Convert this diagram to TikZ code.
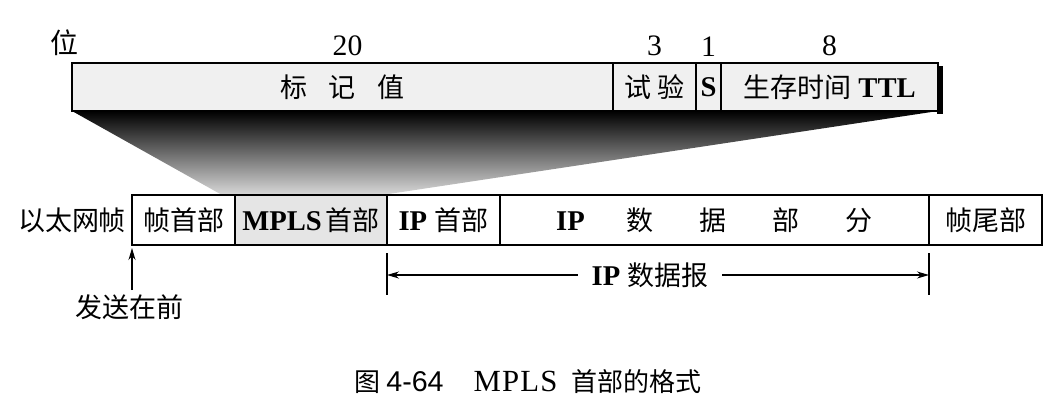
\documentclass[tikz,border=0pt]{standalone}
\usepackage{fontspec}
\setmainfont{Liberation Serif}[Scale=1.06]
\newfontfamily\cjk{Noto Sans CJK SC}
\newfontfamily\capsans{Liberation Sans}[Scale=1.1]
\usetikzlibrary{arrows.meta, positioning}

\begin{document}
\begin{tikzpicture}[x=1pt, y=-1pt,
    every node/.style={font=\fontsize{27}{30}\selectfont, inner sep=0pt, outer sep=0pt},
    labelbox/.style={rectangle, draw, line width=1.3pt, fill=gray!12, minimum height=48pt},
    fieldbox/.style={rectangle, draw, line width=1.3pt, fill=white, minimum height=50pt},
    bitnum/.style={font=\fontsize{28}{30}\selectfont},
    tick/.style={line width=1.1pt},
    arrow/.style={-{Stealth[length=12pt, width=7pt]}, line width=1.2pt}
]
    \useasboundingbox (0,0) rectangle (1058,405);
    \shade[top color=black, bottom color=gray!30] (72,111) -- (938,111) -- (382,195) -- (222,195) -- cycle;
    \fill (937,66) rectangle (943,114);

    \node[labelbox, minimum width=541pt, anchor=north west] (label) at (72,63) {\cjk 标\hspace{22pt}记\hspace{22pt}值};
    \node[labelbox, minimum width=83pt, right=0pt of label] (exp) {\cjk 试\hspace{6pt}验};
    \node[labelbox, minimum width=25pt, right=0pt of exp] (sbit) {\textbf{S}};
    \node[labelbox, minimum width=217pt, right=0pt of sbit] (ttl) {{\cjk 生存时间} \textbf{TTL}};

    \node[bitnum, above=7pt of label.north west, xshift=-8pt] (bitword) {\cjk 位};
    \node[bitnum, above=7pt of label, xshift=5pt] (b20) {20};
    \node[bitnum, above=7pt of exp] (b3) {3};
    \node[bitnum, above=7pt of sbit] (b1) {1};
    \node[bitnum, above=7pt of ttl] (b8) {8};

    \node[fieldbox, minimum width=103pt, anchor=north west] (fhead) at (132,195) {\cjk 帧首部};
    \node[fieldbox, fill=gray!20, minimum width=152pt, right=0pt of fhead] (mplshd) {\textbf{MPLS}\hspace{4pt}{\cjk 首部}};
    \node[fieldbox, minimum width=113pt, right=0pt of mplshd] (iphd) {\textbf{IP} {\cjk 首部}};
    \node[fieldbox, minimum width=429pt, right=0pt of iphd] (ipdata) {\textbf{IP}\hspace{42pt}{\cjk 数\hspace{46pt}据\hspace{46pt}部\hspace{46pt}分}};
    \node[fieldbox, minimum width=113pt, right=0pt of ipdata] (ftail) {\cjk 帧尾部};
    \node[left=6pt of fhead] (ether) {\cjk 以太网帧};

    \node[below=50pt of fhead.south west, xshift=-3pt] (sendfirst) {\cjk 发送在前};
    \draw[arrow, shorten <=5pt, shorten >=3pt] (sendfirst.north -| fhead.south west) -- (fhead.south west);

    \draw[tick] ([yshift=-8pt]iphd.south west) -- ([yshift=-50pt]iphd.south west);
    \draw[tick] ([yshift=-8pt]ftail.south west) -- ([yshift=-50pt]ftail.south west);
    \node[inner xsep=14pt] (dgram) at (650,275) {\textbf{IP} {\cjk 数据报}};
    \draw[arrow] (dgram) -- (dgram -| iphd.south west);
    \draw[arrow] (dgram) -- (dgram -| ftail.south west);

    \node[font=\fontsize{26}{30}\selectfont] (caption) at (528,382) {{\cjk 图}\hspace{6pt}{\capsans 4-64}\hspace{30pt}{\fontsize{29}{30}\selectfont\addfontfeature{LetterSpace=4}MPLS}\hspace{14pt}{\cjk 首部的格式}};
\end{tikzpicture}
\end{document}
